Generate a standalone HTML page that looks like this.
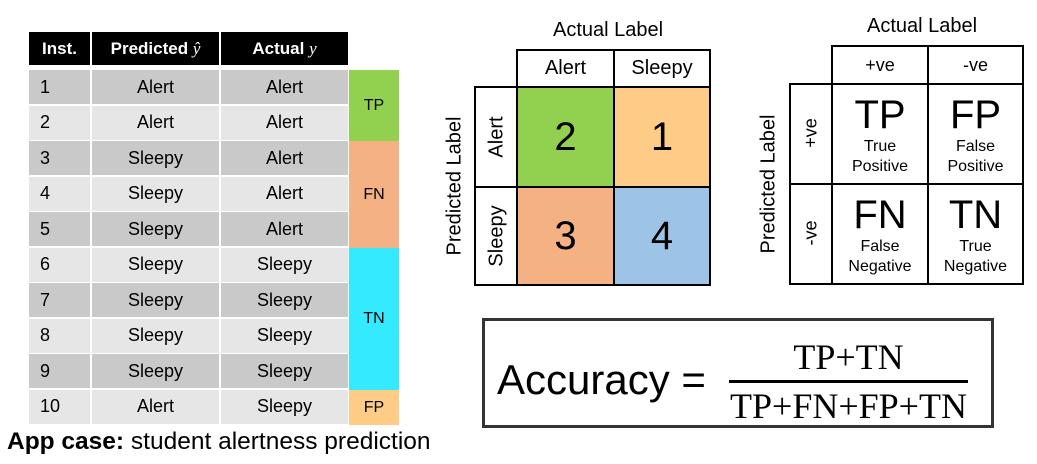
<!DOCTYPE html>
<html><head><meta charset="utf-8"><style>
body{margin:0;width:1037px;height:464px;background:#fff;position:relative;overflow:hidden;font-family:"Liberation Sans",sans-serif;color:#000}
.a{position:absolute;box-sizing:border-box;display:flex;align-items:center;justify-content:center}
.h{background:#000;color:#fff;font-weight:bold;font-size:17px}
.r{font-size:18px}
.t{position:absolute;white-space:nowrap}
.rot{position:absolute;transform:translate(-50%,-50%) rotate(-90deg);white-space:nowrap}
.ln{position:absolute;background:#000}
</style></head><body>
<div class="a h" style="left:29px;top:32px;width:61px;height:33px">Inst.</div>
<div class="a h" style="left:92px;top:32px;width:127px;height:33px">Predicted&nbsp;<span style="font-family:'Liberation Serif',serif;font-style:italic;font-weight:normal">ŷ</span></div>
<div class="a h" style="left:221px;top:32px;width:127px;height:33px">Actual&nbsp;<span style="font-family:'Liberation Serif',serif;font-style:italic;font-weight:normal">y</span></div>
<div id="rows"></div>
<script>
var d=[["1","Alert","Alert"],["2","Alert","Alert"],["3","Sleepy","Alert"],["4","Sleepy","Alert"],["5","Sleepy","Alert"],["6","Sleepy","Sleepy"],["7","Sleepy","Sleepy"],["8","Sleepy","Sleepy"],["9","Sleepy","Sleepy"],["10","Alert","Sleepy"]];
var h="";
for(var i=0;i<10;i++){var y=70+i*35.5;var c=i%2?"#e6e6e6":"#c9c9c9";
h+='<div class="a r" style="left:29px;top:'+y+'px;width:61px;height:34px;background:'+c+';justify-content:flex-start;padding-left:11px">'+d[i][0]+'</div>';
h+='<div class="a r" style="left:92px;top:'+y+'px;width:127px;height:34px;background:'+c+'">'+d[i][1]+'</div>';
h+='<div class="a r" style="left:221px;top:'+y+'px;width:127px;height:34px;background:'+c+'">'+d[i][2]+'</div>';}
document.getElementById("rows").innerHTML=h;
</script>
<div class="a" style="left:349px;top:70px;width:50px;height:71px;background:#92d050;font-size:16px">TP</div>
<div class="a" style="left:349px;top:141px;width:50px;height:107px;background:#f4b183;font-size:16px">FN</div>
<div class="a" style="left:349px;top:248px;width:50px;height:142px;background:#33eaff;font-size:16px">TN</div>
<div class="a" style="left:349px;top:390px;width:50px;height:35px;background:#ffcc88;font-size:16px">FP</div>
<div class="t" style="left:7px;top:428px;font-size:24.5px"><b>App case:</b> student alertness prediction</div>

<div class="t" style="left:553px;top:19px;font-size:20px">Actual Label</div>
<div class="a" style="left:517px;top:87px;width:97px;height:100px;background:#92d050;font-size:40px">2</div>
<div class="a" style="left:614px;top:87px;width:96px;height:100px;background:#ffcc88;font-size:40px">1</div>
<div class="a" style="left:517px;top:187px;width:97px;height:98px;background:#f4b183;font-size:40px">3</div>
<div class="a" style="left:614px;top:187px;width:96px;height:98px;background:#9dc3e6;font-size:40px">4</div>
<div class="a" style="left:517px;top:49px;width:97px;height:38px;font-size:20px">Alert</div>
<div class="a" style="left:614px;top:49px;width:96px;height:38px;font-size:20px">Sleepy</div>
<div class="ln" style="left:517px;top:49px;width:194px;height:2px"></div>
<div class="ln" style="left:474px;top:86px;width:237px;height:2px"></div>
<div class="ln" style="left:474px;top:186px;width:237px;height:2px"></div>
<div class="ln" style="left:474px;top:284px;width:237px;height:2px"></div>
<div class="ln" style="left:474px;top:86px;width:2px;height:200px"></div>
<div class="ln" style="left:516px;top:49px;width:2px;height:237px"></div>
<div class="ln" style="left:613px;top:49px;width:2px;height:237px"></div>
<div class="ln" style="left:709px;top:49px;width:2px;height:237px"></div>
<div class="rot" style="left:497px;top:137px;font-size:20px">Alert</div>
<div class="rot" style="left:497px;top:236px;font-size:20px">Sleepy</div>
<div class="rot" style="left:455px;top:186px;font-size:20px">Predicted Label</div>

<div class="t" style="left:867px;top:15px;font-size:20px">Actual Label</div>
<div class="ln" style="left:832px;top:45px;width:192px;height:2px"></div>
<div class="ln" style="left:789px;top:83px;width:235px;height:2px"></div>
<div class="ln" style="left:789px;top:183px;width:235px;height:2px"></div>
<div class="ln" style="left:789px;top:283px;width:235px;height:2px"></div>
<div class="ln" style="left:789px;top:83px;width:2px;height:202px"></div>
<div class="ln" style="left:831px;top:45px;width:2px;height:240px"></div>
<div class="ln" style="left:927px;top:45px;width:2px;height:240px"></div>
<div class="ln" style="left:1022px;top:45px;width:2px;height:240px"></div>
<div class="a" style="left:833px;top:47px;width:94px;height:36px;font-size:18px">+ve</div>
<div class="a" style="left:929px;top:47px;width:93px;height:36px;font-size:18px">-ve</div>
<div class="rot" style="left:811px;top:133px;font-size:18px">+ve</div>
<div class="rot" style="left:811px;top:233px;font-size:18px">-ve</div>
<div class="rot" style="left:769px;top:184px;font-size:20px">Predicted Label</div>
<div class="a" style="left:833px;top:95px;width:94px;flex-direction:column;line-height:1"><span style="font-size:40px">TP</span><span style="font-size:16px;line-height:20px;margin-top:2px;text-align:center">True<br>Positive</span></div>
<div class="a" style="left:929px;top:95px;width:93px;flex-direction:column;line-height:1"><span style="font-size:40px">FP</span><span style="font-size:16px;line-height:20px;margin-top:2px;text-align:center">False<br>Positive</span></div>
<div class="a" style="left:833px;top:195px;width:94px;flex-direction:column;line-height:1"><span style="font-size:40px">FN</span><span style="font-size:16px;line-height:20px;margin-top:2px;text-align:center">False<br>Negative</span></div>
<div class="a" style="left:929px;top:195px;width:93px;flex-direction:column;line-height:1"><span style="font-size:40px">TN</span><span style="font-size:16px;line-height:20px;margin-top:2px;text-align:center">True<br>Negative</span></div>

<div style="position:absolute;left:482px;top:318px;width:512px;height:110px;box-sizing:border-box;border:3px solid #333"></div>
<div class="t" style="left:497px;top:355px;font-size:42px;line-height:50px">Accuracy =</div>
<div class="t" style="left:729px;top:337px;width:239px;text-align:center;font-family:'Liberation Serif',serif;font-size:36px;line-height:40px">TP+TN</div>
<div class="ln" style="left:729px;top:380px;width:239px;height:3px"></div>
<div class="t" style="left:719px;top:386px;width:259px;text-align:center;font-family:'Liberation Serif',serif;font-size:36px;line-height:40px">TP+FN+FP+TN</div>
</body></html>
